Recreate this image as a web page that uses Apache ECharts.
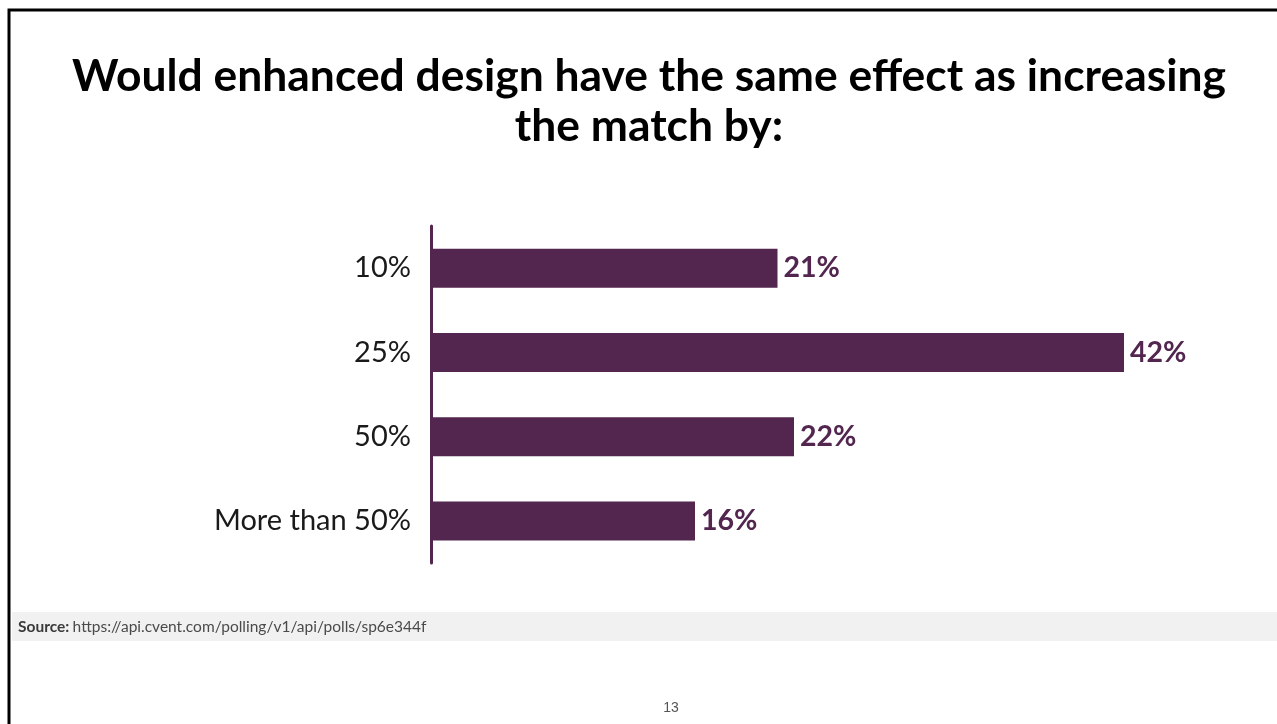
<!DOCTYPE html>
<html>
<head>
<meta charset="utf-8">
<script src="https://cdn.jsdelivr.net/npm/echarts@6/dist/echarts.min.js"></script>
<style>
  html, body { margin: 0; padding: 0; background: #fff; }
  #chart { width: 1277px; height: 724px; }
</style>
</head>
<body>
<div id="chart"></div>
<script>
const categories = ["10%", "25%", "50%", "More than 50%"];
const shares = [21, 42, 22, 16];
const titleLines = ["Would enhanced design have the same effect as increasing", "the match by:"];
const sourceUrl = "https://api.cvent.com/polling/v1/api/polls/sp6e344f";
const pageNumber = "13";

const purple = "#52264f";

const chart = echarts.init(document.getElementById("chart"));

chart.setOption({
  backgroundColor: "#ffffff",
  animation: false,
  grid: { left: 431, right: 153, top: 226, bottom: 161, containLabel: false },
  xAxis: {
    type: "value",
    min: 0,
    max: 42,
    show: false
  },
  yAxis: {
    type: "category",
    data: categories,
    inverse: true,
    axisLine: { show: true, lineStyle: { color: purple, width: 3 } },
    axisTick: { show: false },
    axisLabel: {
      fontFamily: "Lato",
      fontSize: 29,
      color: "#1a1a1a",
      margin: 20
    }
  },
  series: [
    {
      type: "bar",
      data: shares,
      barWidth: 39,
      itemStyle: { color: purple },
      label: {
        show: true,
        position: "right",
        distance: 6,
        formatter: "{c}%",
        fontFamily: "Lato",
        fontWeight: "bold",
        fontSize: 28.5,
        color: purple
      }
    }
  ],
  graphic: [
    {
      type: "rect",
      shape: { x: 9, y: 10, width: 1300, height: 800 },
      style: { fill: "none", stroke: "#000000", lineWidth: 3 },
      silent: true
    },
    // title, two centred lines
    {
      type: "text",
      x: 649,
      y: 52,
      style: {
        text: titleLines.join("\n"),
        align: "center",
        verticalAlign: "top",
        fontFamily: "Lato",
        fontWeight: "bold",
        fontSize: 44.4,
        lineHeight: 50,
        fill: "#000000"
      }
    },
    {
      type: "rect",
      shape: { x: 12, y: 612, width: 1265, height: 29 },
      style: { fill: "#f1f1f1" },
      silent: true
    },
    {
      type: "text",
      x: 18,
      y: 627,
      style: {
        text: "{b|Source:} {n|" + sourceUrl + "}",
        verticalAlign: "middle",
        rich: {
          b: { fontFamily: "Lato", fontWeight: "bold", fontSize: 15.5, fill: "#3a3a3a" },
          n: { fontFamily: "Lato", fontSize: 15.5, fill: "#4a4a4a" }
        }
      }
    },
    {
      type: "text",
      x: 671,
      y: 708,
      style: {
        text: pageNumber,
        align: "center",
        verticalAlign: "middle",
        fontFamily: "Liberation Sans",
        fontSize: 14,
        fill: "#555555"
      }
    }
  ]
});
</script>
</body>
</html>
